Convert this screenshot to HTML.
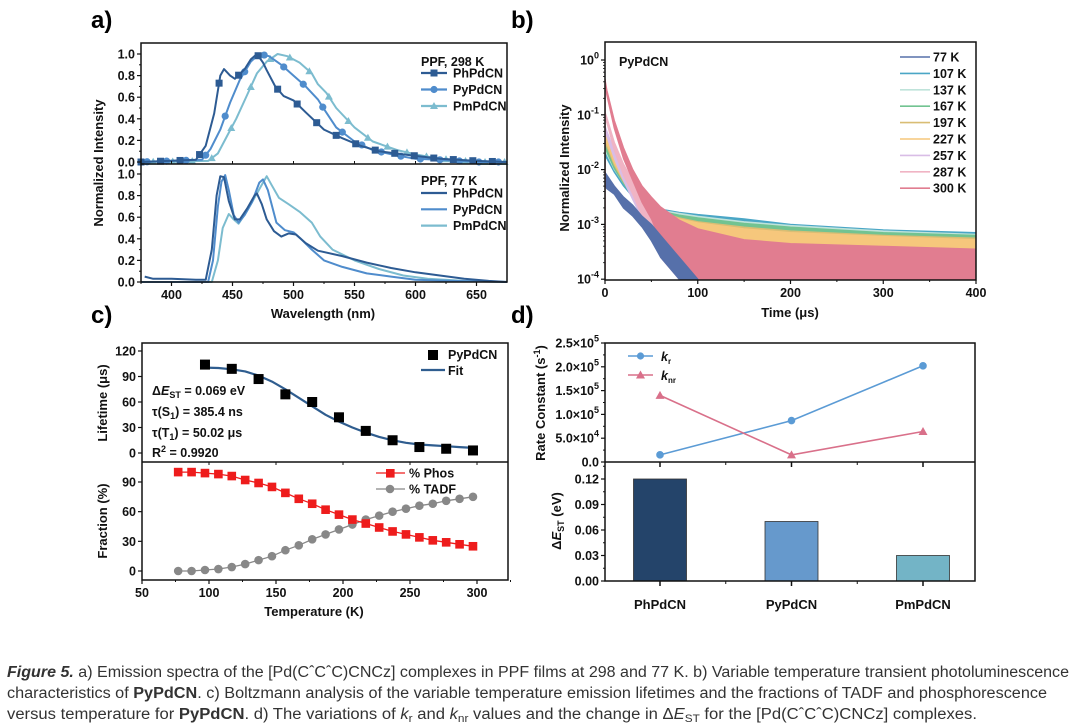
<!DOCTYPE html>
<html><head><meta charset="utf-8">
<style>
html,body{margin:0;padding:0;background:#fff;}
svg{display:block;font-family:"Liberation Sans",Arial,sans-serif;}
.tk{font-size:12.5px;font-weight:bold;fill:#111;}
.tt{font-size:13px;font-weight:bold;fill:#111;}
.pl{font-size:24px;font-weight:bold;fill:#000;}
.cap{font-size:15.5px;fill:#333;}
</style></head>
<body>
<svg id="fig" width="1080" height="727" viewBox="0 0 1080 727" xmlns="http://www.w3.org/2000/svg">
<defs><clipPath id="clipB"><rect x="605" y="42" width="371" height="238"/></clipPath></defs>
<text class="pl" x="91" y="28">a)</text>
<text class="pl" x="511" y="28">b)</text>
<text class="pl" x="91" y="323">c)</text>
<text class="pl" x="511" y="323">d)</text>
<g id="gA"></g>
<g id="gB"></g>
<g id="gC"></g>
<g id="gD"></g>
<g>
<text class="cap" x="7" y="677" textLength="1062" lengthAdjust="spacingAndGlyphs"><tspan font-weight="bold" font-style="italic">Figure 5.</tspan> a) Emission spectra of the [Pd(CˆCˆC)CNCz] complexes in PPF films at 298 and 77 K. b) Variable temperature transient photoluminescence</text>
<text class="cap" x="7" y="698" textLength="1040" lengthAdjust="spacingAndGlyphs">characteristics of <tspan font-weight="bold">PyPdCN</tspan>. c) Boltzmann analysis of the variable temperature emission lifetimes and the fractions of TADF and phosphorescence</text>
<text class="cap" x="7" y="719" textLength="970" lengthAdjust="spacingAndGlyphs">versus temperature for <tspan font-weight="bold">PyPdCN</tspan>. d) The variations of <tspan font-style="italic">k</tspan><tspan font-size="11" dy="3">r</tspan><tspan dy="-3"> and </tspan><tspan font-style="italic">k</tspan><tspan font-size="11" dy="3">nr</tspan><tspan dy="-3"> values and the change in Δ</tspan><tspan font-style="italic">E</tspan><tspan font-size="11" dy="3">ST</tspan><tspan dy="-3"> for the [Pd(CˆCˆC)CNCz] complexes.</tspan></text>
</g>
</svg>
<script>
// ---------- Panel a data ----------
const a298Ph_x=[375,420,428,435,440,443,448,452,460,465,470,475,478,485,492,500,510,525,540,555,570,590,620,650,675];
const a298Ph_y=[0,0.02,0.15,0.45,0.8,0.86,0.8,0.77,0.86,0.95,1.0,0.92,0.85,0.7,0.61,0.57,0.46,0.3,0.22,0.15,0.1,0.07,0.03,0.01,0];
const a298Py_x=[375,425,432,440,448,456,465,472,480,490,500,510,520,525,535,550,565,585,600,620,650,675];
const a298Py_y=[0,0.02,0.12,0.3,0.55,0.76,0.93,1.0,0.98,0.9,0.8,0.7,0.58,0.49,0.32,0.19,0.11,0.06,0.03,0.02,0,0];
const a298Pm_x=[375,430,438,446,453,462,470,478,487,495,505,515,520,527,535,550,565,585,600,620,650,675];
const a298Pm_y=[0,0.01,0.08,0.25,0.4,0.62,0.82,0.93,1.0,0.98,0.92,0.82,0.72,0.64,0.5,0.32,0.19,0.11,0.07,0.03,0,0];
const a77Ph_x=[378,385,400,420,428,433,437,440,443,447,452,456,462,468,470,474,478,484,490,496,502,510,520,540,560,580,600,620,640,660,675];
const a77Ph_y=[0.05,0.03,0.03,0.02,0.02,0.3,0.8,0.98,0.97,0.75,0.58,0.58,0.68,0.8,0.82,0.72,0.58,0.47,0.42,0.45,0.44,0.36,0.29,0.24,0.18,0.13,0.09,0.06,0.03,0.01,0];
const a77Py_x=[375,430,434,438,441,444,447,451,455,460,466,472,475,479,486,493,500,506,515,525,540,560,580,600,630,675];
const a77Py_y=[0,0,0.2,0.7,0.93,0.99,0.85,0.62,0.55,0.62,0.74,0.92,0.95,0.85,0.55,0.48,0.46,0.4,0.3,0.2,0.14,0.08,0.05,0.02,0.01,0];
const a77Pm_x=[375,433,438,442,447,451,455,462,468,474,478,482,488,496,505,515,522,532,550,570,590,610,640,675];
const a77Pm_y=[0,0,0.2,0.5,0.63,0.58,0.54,0.66,0.78,0.9,0.98,0.9,0.78,0.72,0.65,0.55,0.42,0.3,0.2,0.12,0.06,0.03,0.01,0];
const markerNm=[375,391,407,423,439,455,471,487,503,519,535,551,567,583,599,615,631,647,663];
const aXTicks=[400,450,500,550,600,650];
const aYTicks=[0,0.2,0.4,0.6,0.8,1.0];
const aNames=['PhPdCN','PyPdCN','PmPdCN'];
// ---------- Panel b data ----------
const bTimes=[0,2,10,20,30,40,50,60,80,100,150,200,300,400];
const bLabels=['77 K','107 K','137 K','167 K','197 K','227 K','257 K','287 K','300 K'];
const b77Top=[-2.05,-2.1,-2.3,-2.5,-2.65,-2.85,-3.0,-3.2,-3.6,-4.0,null,null,null,null];
const b77Bot=[-2.3,-2.35,-2.45,-2.7,-2.85,-3.05,-3.3,-3.6,-4.0,-4.0,null,null,null,null];
const b107Top=[-1.65,-1.7,-1.95,-2.2,-2.4,-2.55,-2.65,-2.72,-2.78,-2.82,-2.9,-3.0,-3.1,-3.15];
const b107Bot=[-1.75,-1.8,-2.05,-2.3,-2.5,-2.68,-2.8,-2.88,-2.95,-3.0,-3.1,-3.2,-3.3,-3.35];
const b137Top=[-1.55,-1.62,-1.9,-2.15,-2.38,-2.55,-2.66,-2.74,-2.8,-2.85,-2.95,-3.02,-3.12,-3.18];
const b137Bot=[-1.65,-1.72,-2.0,-2.25,-2.48,-2.68,-2.8,-2.9,-2.98,-3.05,-3.15,-3.25,-3.35,-3.4];
const b167Top=[-1.5,-1.58,-1.88,-2.15,-2.38,-2.55,-2.68,-2.76,-2.83,-2.88,-2.98,-3.05,-3.15,-3.2];
const b167Bot=[-1.6,-1.68,-1.98,-2.25,-2.5,-2.7,-2.82,-2.92,-3.0,-3.08,-3.2,-3.3,-3.4,-3.45];
const b197Top=[-1.4,-1.48,-1.8,-2.1,-2.35,-2.55,-2.68,-2.78,-2.88,-2.95,-3.05,-3.12,-3.2,-3.25];
const b197Bot=[-1.5,-1.58,-1.92,-2.22,-2.48,-2.72,-2.88,-3.0,-3.1,-3.2,-3.35,-3.45,-3.55,-3.55];
const b227Top=[-1.35,-1.42,-1.75,-2.08,-2.33,-2.55,-2.7,-2.8,-2.9,-2.97,-3.08,-3.15,-3.22,-3.28];
const b227Bot=[-1.45,-1.52,-1.88,-2.2,-2.48,-2.75,-2.92,-3.05,-3.18,-3.28,-3.42,-3.5,-3.6,-3.6];
const b257Top=[-1.2,-1.3,-1.65,-2.0,-2.3,-2.6,-2.85,-3.05,-3.4,-3.7,-4.0,-4.0,-4.0,-4.0];
const b257Bot=[-1.3,-1.4,-1.8,-2.2,-2.55,-2.9,-3.25,-3.6,-4.0,-4.0,-4.0,-4.0,-4.0,-4.0];
const b287Top=[-0.95,-1.05,-1.5,-1.9,-2.2,-2.5,-2.78,-3.05,-3.45,-3.75,-4.0,-4.0,-4.0,-4.0];
const b287Bot=[-1.05,-1.15,-1.65,-2.1,-2.45,-2.85,-3.2,-3.6,-4.0,-4.0,-4.0,-4.0,-4.0,-4.0];
const b300Top=[-0.35,-0.55,-1.1,-1.6,-2.0,-2.3,-2.5,-2.68,-2.92,-3.08,-3.28,-3.35,-3.4,-3.45];
const b300Bot=[-0.45,-0.65,-1.25,-1.8,-2.2,-2.6,-2.9,-3.3,-3.8,-4.0,-4.0,-4.0,-4.0,-4.0];
const bXTicks=[0,100,200,300,400];
const bYExp=[0,-1,-2,-3,-4];
// ---------- Panel c data ----------
const cLifeT=[97,117,137,157,177,197,217,237,257,277,297];
const cLife=[104,99,87,69,60,42,26,15,7,5,3];
const cFitT=[97,107,117,127,137,147,157,167,177,187,197,207,217,227,237,247,257,267,277,287,297];
const cFit=[100.5,100,98.5,96,91,84,75,65,55,45,37,30,24,19,15,12,10,9,8,7,6];
const cFracT=[77,87,97,107,117,127,137,147,157,167,177,187,197,207,217,227,237,247,257,267,277,287,297];
const cPhos=[100,100,99,98,96,92,89,85,79,73,68,62,57,52,48,44,40,37,34,31,29,27,25];
const cTadf=[0,0,1,2,4,7,11,15,21,26,32,37,42,47,52,56,60,63,66,68,71,73,75];
const cXTicks=[50,100,150,200,250,300];
const cLifeTicks=[0,30,60,90,120];
const cFracTicks=[0,30,60,90];
// ---------- Panel d data ----------
const dCats=['PhPdCN','PyPdCN','PmPdCN'];
const dKr=[15000,87000,202000];
const dKnr=[140000,15000,64000];
const dDeltaE=[0.12,0.07,0.03];
const dRateTicks=['0.0','5.0×10^4','1.0×10^5','1.5×10^5','2.0×10^5','2.5×10^5'];
const dRateTickVals=[0,50000,100000,150000,200000,250000];
const dETicks=[0,0.03,0.06,0.09,0.12];

const NS='http://www.w3.org/2000/svg';
function mk(tag,attrs,parent){const e=document.createElementNS(NS,tag);for(const k in attrs)e.setAttribute(k,attrs[k]);parent.appendChild(e);return e;}
function pts(xs,ys,fx,fy){let s='';for(let i=0;i<xs.length;i++){if(ys[i]===null)continue;s+=fx(xs[i]).toFixed(1)+','+fy(ys[i]).toFixed(1)+' ';}return s;}
function interp(xs,ys,x){for(let i=0;i<xs.length-1;i++){if(x>=xs[i]&&x<=xs[i+1]){const f=(x-xs[i])/(xs[i+1]-xs[i]);return ys[i]+f*(ys[i+1]-ys[i]);}}return ys[ys.length-1];}
function txt(parent,x,y,s,cls,anchor){const t=mk('text',{x:x,y:y,'class':cls,'text-anchor':anchor||'start'},parent);t.textContent=s;return t;}

// ================= Panel A =================
(function(){
const g=document.getElementById('gA');
const L=141,R=507,T=43,M=164,B=282;
const ax=v=>L+(v-375)*(R-L)/300;
const ayU=v=>162-v*108;
const ayL=v=>282-v*108;
const cols=['#2d5b93','#4f8ccc','#7cbccf'];
const up=[[a298Ph_x,a298Ph_y],[a298Py_x,a298Py_y],[a298Pm_x,a298Pm_y]];
const lo=[[a77Ph_x,a77Ph_y],[a77Py_x,a77Py_y],[a77Pm_x,a77Pm_y]];
for(let s=2;s>=0;s--){
  const p=mk('polyline',{points:pts(up[s][0],up[s][1],ax,ayU),fill:'none',stroke:cols[s],'stroke-width':2,'stroke-linejoin':'round'},g);
  
  
  markerNm.forEach((nm,i)=>{
    const x=nm+s*5; if(x>675)return;
    const v=interp(up[s][0],up[s][1],x);
    let m;
    if(s===0)m=mk('rect',{x:ax(x)-3.5,y:ayU(v)-3.5,width:7,height:7,fill:cols[s]},g);
    else if(s===1)m=mk('circle',{cx:ax(x),cy:ayU(v),r:3.6,fill:cols[s]},g);
    else m=mk('polygon',{points:`${ax(x)},${ayU(v)-4} ${ax(x)-4},${ayU(v)+3} ${ax(x)+4},${ayU(v)+3}`,fill:cols[s]},g);
    
    
  });
}
for(let s=2;s>=0;s--){
  const p=mk('polyline',{points:pts(lo[s][0],lo[s][1],ax,ayL),fill:'none',stroke:cols[s],'stroke-width':2,'stroke-linejoin':'round'},g);
  
  
}
const fr=mk('rect',{x:L,y:T,width:R-L,height:B-T,fill:'none',stroke:'#111','stroke-width':1.5},g);


mk('line',{x1:L,y1:M,x2:R,y2:M,stroke:'#111','stroke-width':1.5},g);
aXTicks.forEach(v=>{
  mk('line',{x1:ax(v),y1:B,x2:ax(v),y2:B+4,stroke:'#111','stroke-width':1.2},g);
  mk('line',{x1:ax(v-25),y1:B,x2:ax(v-25),y2:B+2,stroke:'#111','stroke-width':1},g);
  mk('line',{x1:ax(v),y1:M,x2:ax(v),y2:M-3,stroke:'#111','stroke-width':1},g);
  const t=txt(g,ax(v),B+17,String(v),'tk','middle');
  
  
});
aYTicks.forEach(v=>{
  [ayU,ayL].forEach(fy=>{
    mk('line',{x1:L,y1:fy(v),x2:L-4,y2:fy(v),stroke:'#111','stroke-width':1.2},g);
    if(v<1)mk('line',{x1:L,y1:fy(v+0.1),x2:L-2,y2:fy(v+0.1),stroke:'#111','stroke-width':1},g);
    const t=txt(g,L-6,fy(v)+4.5,v.toFixed(1),'tk','end');
    
    
  });
});
const yt=txt(g,0,0,'Normalized Intensity','tt','middle');
yt.setAttribute('transform','translate(103,163) rotate(-90)');


const xt=txt(g,323,318,'Wavelength (nm)','tt','middle');


const h1=txt(g,421,66,'PPF, 298 K','tk');


const h2=txt(g,421,185,'PPF, 77 K','tk');


aNames.forEach((n,s)=>{
  const y1=73+s*16.5, y2=193+s*16.3;
  mk('line',{x1:421,y1:y1,x2:447,y2:y1,stroke:cols[s],'stroke-width':2.2},g);
  if(s===0)mk('rect',{x:430.5,y:y1-3.5,width:7,height:7,fill:cols[s]},g);
  else if(s===1)mk('circle',{cx:434,cy:y1,r:3.6,fill:cols[s]},g);
  else mk('polygon',{points:`434,${y1-4} 430,${y1+3} 438,${y1+3}`,fill:cols[s]},g);
  const e1=txt(g,453,y1+4.5,n,'tk');
  
  
  mk('line',{x1:421,y1:y2,x2:447,y2:y2,stroke:cols[s],'stroke-width':2.2},g);
  const e2=txt(g,453,y2+4.5,n,'tk');
  
  
});
})();

// ================= Panel B =================
(function(){
const g=document.getElementById('gB');
const L=605,R=976,T=42,B=280;
const bx=t=>L+t*(R-L)/400;
const by=lv=>60-lv*54.8;
const series=[
 [b107Top,b107Bot,'#4aa6c6'],[b137Top,b137Bot,'#bfe3da'],[b167Top,b167Bot,'#72c391'],
 [b197Top,b197Bot,'#d9bd74'],[b227Top,b227Bot,'#f6c77c'],[b257Top,b257Bot,'#d9bde6'],
 [b287Top,b287Bot,'#f0b4c4'],[b300Top,b300Bot,'#e17d90'],[b77Top,b77Bot,'#5670aa']];
const names=['107k','137k','167k','197k','227k','257k','287k','300k','77k'];
const cg=mk('g',{'clip-path':'url(#clipB)'},g);
series.forEach((s,i)=>{
  let fw='',bw='';
  for(let k=0;k<bTimes.length;k++){if(s[0][k]===null)continue;fw+=bx(bTimes[k]).toFixed(1)+','+by(s[0][k]).toFixed(1)+' ';}
  for(let k=bTimes.length-1;k>=0;k--){if(s[1][k]===null)continue;bw+=bx(bTimes[k]).toFixed(1)+','+by(s[1][k]).toFixed(1)+' ';}
  const p=mk('polygon',{points:fw+bw,fill:s[2],stroke:s[2],'stroke-width':1.2,'stroke-linejoin':'round'},cg);
  
  
});
const sp=mk('line',{x1:bx(0),y1:B,x2:bx(0),y2:by(b300Top[0]),stroke:'#e17d90','stroke-width':1.5},cg);


const fr=mk('rect',{x:L,y:T,width:R-L,height:B-T,fill:'none',stroke:'#111','stroke-width':1.5},g);


bXTicks.forEach(v=>{
  mk('line',{x1:bx(v),y1:B,x2:bx(v),y2:B+4,stroke:'#111','stroke-width':1.2},g);
  if(v<400)mk('line',{x1:bx(v+50),y1:B,x2:bx(v+50),y2:B+2,stroke:'#111','stroke-width':1},g);
  const t=txt(g,bx(v),B+17,String(v),'tk','middle');
  
  
});
bYExp.forEach(e=>{
  mk('line',{x1:L,y1:by(e),x2:L-4,y2:by(e),stroke:'#111','stroke-width':1.2},g);
  const t=mk('text',{x:L-6,y:by(e)+4.5,'class':'tk','text-anchor':'end'},g);
  t.innerHTML='10<tspan font-size="9" dy="-6">'+e+'</tspan>';
  
  
  if(e>-4)for(let m=2;m<10;m++){const yy=by(e-1+Math.log10(m));mk('line',{x1:L,y1:yy,x2:L-2,y2:yy,stroke:'#111','stroke-width':0.8},g);}
});
const yt=txt(g,0,0,'Normalized Intensity','tt','middle');
yt.setAttribute('transform','translate(569,168) rotate(-90)');
yt.setAttribute('font-size','12');


const xt=txt(g,790,317,'Time (μs)','tt','middle');


const an=txt(g,619,66,'PyPdCN','tk');


const lc=['#5670aa','#4aa6c6','#bfe3da','#72c391','#d9bd74','#f6c77c','#d9bde6','#f0b4c4','#e17d90'];
bLabels.forEach((l,i)=>{
  const y=57+i*16.4;
  mk('line',{x1:900,y1:y,x2:930,y2:y,stroke:lc[i],'stroke-width':1.6},g);
  const t=txt(g,933,y+4.5,l,'tk');
  
  
});
})();

// ================= Panel C =================
(function(){
const g=document.getElementById('gC');
const L=142,R=508,T=343,M=462,B=580;
const cx=v=>142+(v-50)*1.34;
const cyU=v=>453-v*0.85;
const cyL=v=>571-v*0.989;
const fit=mk('polyline',{points:pts(cFitT,cFit,cx,cyU),fill:'none',stroke:'#2f5d8f','stroke-width':2.2,'stroke-linejoin':'round'},g);


cLifeT.forEach((t,i)=>{
  const r=mk('rect',{x:cx(t)-5,y:cyU(cLife[i])-5,width:10,height:10,fill:'#000'},g);
  
  
});
const pl=mk('polyline',{points:pts(cFracT,cTadf,cx,cyL),fill:'none',stroke:'#888','stroke-width':1.3},g);


cFracT.forEach((t,i)=>{
  const c=mk('circle',{cx:cx(t),cy:cyL(cTadf[i]),r:4.3,fill:'#888'},g);
  
  
});
const pp=mk('polyline',{points:pts(cFracT,cPhos,cx,cyL),fill:'none',stroke:'#ee1c1c','stroke-width':1.3},g);


cFracT.forEach((t,i)=>{
  const r=mk('rect',{x:cx(t)-4.3,y:cyL(cPhos[i])-4.3,width:8.6,height:8.6,fill:'#ee1c1c'},g);
  
  
});
const fr=mk('rect',{x:L,y:T,width:R-L,height:B-T,fill:'none',stroke:'#111','stroke-width':1.5},g);


mk('line',{x1:L,y1:M,x2:R,y2:M,stroke:'#111','stroke-width':1.5},g);
cXTicks.forEach(v=>{
  mk('line',{x1:cx(v),y1:B,x2:cx(v),y2:B+4,stroke:'#111','stroke-width':1.2},g);
  mk('line',{x1:cx(v+25),y1:B,x2:cx(v+25),y2:B+2,stroke:'#111','stroke-width':1},g);
  mk('line',{x1:cx(v),y1:M,x2:cx(v),y2:M+3,stroke:'#111','stroke-width':1},g);
  const t=txt(g,cx(v),B+17,String(v),'tk','middle');
  
  
});
cLifeTicks.forEach(v=>{
  mk('line',{x1:L,y1:cyU(v),x2:L-4,y2:cyU(v),stroke:'#111','stroke-width':1.2},g);
  const t=txt(g,L-6,cyU(v)+4.5,String(v),'tk','end');
  
  
});
cFracTicks.forEach(v=>{
  mk('line',{x1:L,y1:cyL(v),x2:L-4,y2:cyL(v),stroke:'#111','stroke-width':1.2},g);
  const t=txt(g,L-6,cyL(v)+4.5,String(v),'tk','end');
  
  
});
const y1=txt(g,0,0,'Lifetime (μs)','tt','middle');
y1.setAttribute('transform','translate(107,403) rotate(-90)');


const y2=txt(g,0,0,'Fraction (%)','tt','middle');
y2.setAttribute('transform','translate(107,521) rotate(-90)');


const xt=txt(g,314,616,'Temperature (K)','tt','middle');


const ann=mk('g',{},g);


const a1=mk('text',{x:152,y:395,'class':'tk'},ann);a1.innerHTML='Δ<tspan font-style="italic">E</tspan><tspan font-size="9" dy="3">ST</tspan><tspan dy="-3"> = 0.069 eV</tspan>';
const a2=mk('text',{x:152,y:416,'class':'tk'},ann);a2.innerHTML='τ(S<tspan font-size="9" dy="3">1</tspan><tspan dy="-3">) = 385.4 ns</tspan>';
const a3=mk('text',{x:152,y:437,'class':'tk'},ann);a3.innerHTML='τ(T<tspan font-size="9" dy="3">1</tspan><tspan dy="-3">) = 50.02 μs</tspan>';
const a4=mk('text',{x:152,y:457,'class':'tk'},ann);a4.innerHTML='R<tspan font-size="9" dy="-5">2</tspan><tspan dy="5"> = 0.9920</tspan>';
mk('rect',{x:428,y:350,width:10,height:10,fill:'#000'},g);
const l1=txt(g,448,359,'PyPdCN','tk');


mk('line',{x1:421,y1:370,x2:445,y2:370,stroke:'#2f5d8f','stroke-width':2.2},g);
const l2=txt(g,448,375,'Fit','tk');


mk('line',{x1:376,y1:473,x2:405,y2:473,stroke:'#ee1c1c','stroke-width':1.3},g);
mk('rect',{x:386,y:469,width:8.6,height:8.6,fill:'#ee1c1c'},g);
const l3=txt(g,409,477.5,'% Phos','tk');


mk('line',{x1:376,y1:489,x2:405,y2:489,stroke:'#888','stroke-width':1.3},g);
mk('circle',{cx:390,cy:489,r:4.3,fill:'#888'},g);
const l4=txt(g,409,493.5,'% TADF','tk');


})();

// ================= Panel D =================
(function(){
const g=document.getElementById('gD');
const L=605,R=975,T=343,M=462,B=581;
const dx=i=>660+i*131.5;
const dyU=v=>462-v*119/250000;
const dyL=v=>581-v*850;
const bc=['#24446a','#6699cc','#73b4c6'];
dCats.forEach((c,i)=>{
  const r=mk('rect',{x:dx(i)-26.5,y:dyL(dDeltaE[i]),width:53,height:B-dyL(dDeltaE[i]),fill:bc[i],stroke:'#333','stroke-width':0.8},g);
  
  
});
const kr=mk('polyline',{points:pts([0,1,2],dKr,dx,dyU),fill:'none',stroke:'#5b9bd5','stroke-width':1.6},g);


const knr=mk('polyline',{points:pts([0,1,2],dKnr,dx,dyU),fill:'none',stroke:'#d9708a','stroke-width':1.6},g);


dCats.forEach((c,i)=>{
  const m1=mk('circle',{cx:dx(i),cy:dyU(dKr[i]),r:3.8,fill:'#5b9bd5'},g);
  
  
  const yy=dyU(dKnr[i]);
  const m2=mk('polygon',{points:`${dx(i)},${yy-4.5} ${dx(i)-4.5},${yy+3.5} ${dx(i)+4.5},${yy+3.5}`,fill:'#d9708a'},g);
  
  
  mk('line',{x1:dx(i),y1:B,x2:dx(i),y2:B+5,stroke:'#111','stroke-width':1.5},g);
  mk('line',{x1:dx(i),y1:M,x2:dx(i),y2:M+5,stroke:'#111','stroke-width':1.5},g);
  if(i<2){mk('line',{x1:dx(i+0.5),y1:B,x2:dx(i+0.5),y2:B+3,stroke:'#111','stroke-width':1},g);mk('line',{x1:dx(i+0.5),y1:M,x2:dx(i+0.5),y2:M+3,stroke:'#111','stroke-width':1},g);}
  const t=txt(g,dx(i),609,c,'tt','middle');
  
  
});
const fr=mk('rect',{x:L,y:T,width:R-L,height:B-T,fill:'none',stroke:'#111','stroke-width':1.5},g);


mk('line',{x1:L,y1:M,x2:R,y2:M,stroke:'#111','stroke-width':1.5},g);
dRateTickVals.forEach((v,i)=>{
  mk('line',{x1:L,y1:dyU(v),x2:L-4,y2:dyU(v),stroke:'#111','stroke-width':1.2},g);
  if(i<5)mk('line',{x1:L,y1:dyU(v+25000),x2:L-2,y2:dyU(v+25000),stroke:'#111','stroke-width':1},g);
  const parts=dRateTicks[i].split('^');
  const t=mk('text',{x:L-6,y:dyU(v)+4.5,'class':'tk','text-anchor':'end'},g);
  t.innerHTML=parts.length>1?parts[0]+'<tspan font-size="9" dy="-6">'+parts[1]+'</tspan>':parts[0];
  
  
});
dETicks.forEach((v,i)=>{
  mk('line',{x1:L,y1:dyL(v),x2:L-4,y2:dyL(v),stroke:'#111','stroke-width':1.2},g);
  mk('line',{x1:L,y1:dyL(v+0.015),x2:L-2,y2:dyL(v+0.015),stroke:'#111','stroke-width':1},g);
  const t=txt(g,L-6,dyL(v)+4.5,v.toFixed(2),'tk','end');
  
  
});
const y1=mk('text',{'class':'tt','text-anchor':'middle',transform:'translate(545,403) rotate(-90)'},g);
y1.innerHTML='Rate Constant (s<tspan font-size="9" dy="-5">-1</tspan><tspan dy="5">)</tspan>';


const y2=mk('text',{'class':'tt','text-anchor':'middle',transform:'translate(561,521) rotate(-90)'},g);
y2.innerHTML='Δ<tspan font-style="italic">E</tspan><tspan font-size="9" dy="3">ST</tspan><tspan dy="-3"> (eV)</tspan>';


mk('line',{x1:628,y1:356,x2:653,y2:356,stroke:'#5b9bd5','stroke-width':1.6},g);
mk('circle',{cx:640.5,cy:356,r:3.6,fill:'#5b9bd5'},g);
const e1=mk('text',{x:661,y:361,'class':'tk'},g);
e1.innerHTML='<tspan font-style="italic">k</tspan><tspan font-size="8" dy="3">r</tspan>';


mk('line',{x1:628,y1:375,x2:653,y2:375,stroke:'#d9708a','stroke-width':1.6},g);
mk('polygon',{points:'640.5,370.5 636,378.5 645,378.5',fill:'#d9708a'},g);
const e2=mk('text',{x:661,y:380,'class':'tk'},g);
e2.innerHTML='<tspan font-style="italic">k</tspan><tspan font-size="8" dy="3">nr</tspan>';


})();
</script>
</body></html>
